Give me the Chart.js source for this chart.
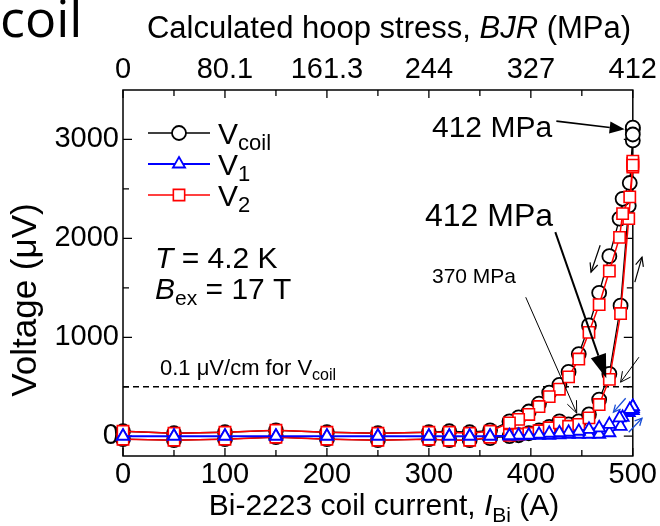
<!DOCTYPE html>
<html><head><meta charset="utf-8">
<script src="https://cdn.jsdelivr.net/npm/chart.js@4.4.0/dist/chart.umd.min.js"></script>
<style>html,body{margin:0;padding:0;background:#fff;overflow:hidden}</style>
</head><body>
<canvas id="c" width="660" height="526"></canvas>
<script>
// ---- data ----
const currentUp = [0, 50, 100, 150, 200, 250, 300, 320, 340, 360, 379, 388, 398, 408, 418, 428, 437, 447, 457, 467, 477, 488, 496, 500];
const vcoilUp   = [-30, -40, -30, -10, -30, -40, -30, -40, -40, -20, 0, 10, 30, 60, 95, 150, 120, 150, 220, 370, 630, 1320, 2330, 2990];
const v1Up      = [0, 0, 0, 0, 0, 0, 0, 0, 0, 0, 0, 0, 5, 10, 10, 15, 20, 20, 20, 20, 35, 100, 240, 260];
const v2Up      = [-30, -40, -30, -10, -30, -40, -30, -40, -40, -10, 10, 20, 30, 55, 85, 135, 100, 120, 185, 320, 575, 1240, 2200, 2720];

const currentHold = [500, 500];
const vcoilHold   = [3100, 3120];
const v1Hold      = [280, 300];
const v2Hold      = [2760, 2780];

const currentDown = [500, 497, 490, 487, 477, 467, 457, 447, 437, 428, 418, 408, 398, 388, 379, 360, 340, 320, 300, 250, 200, 150, 100, 50, 0];
const vcoilDown   = [3050, 2560, 2400, 2200, 1820, 1450, 1120, 830, 650, 520, 440, 330, 250, 190, 150, 60, 40, 50, 40, 30, 40, 60, 40, 30, 50];
const v1Down      = [300, 270, 190, 185, 120, 85, 70, 50, 40, 35, 30, 20, 10, 10, 5, 0, 0, 0, 0, 0, 0, 0, 0, 0, 0];
const v2Down      = [2740, 2420, 2250, 2010, 1670, 1330, 1050, 780, 600, 475, 400, 300, 220, 170, 135, 50, 30, 40, 40, 30, 40, 60, 40, 30, 50];

const criterionCurrent = [0, 500];
const criterionVoltage = [500, 500];

const xTickValues = [0, 100, 200, 300, 400, 500];
const xMinorValues = [50, 150, 250, 350, 450];
const stressTickLabels = ['0', '80.1', '161.3', '244', '327', '412'];
const yTickValues = [0, 1000, 2000, 3000];
const yMinorValues = [500, 1500, 2500];

function pts(xs, ys){ return xs.map((x,i)=>({x:x, y:ys[i]})); }
function series(u, h, d, cu, ch, cd){ return pts(cu,u).concat(pts(ch,h), pts(cd,d)); }

const FONT = '"Liberation Sans", Arial, sans-serif';

function drawRich(ctx, x, y, segs, align, base){
  let total = 0;
  const items = segs.map(s=>{
    const size = s.size || base;
    const font = (s.italic ? 'italic ' : '') + size + 'px ' + FONT;
    ctx.font = font;
    const w = ctx.measureText(s.t).width + (s.gap||0);
    total += w;
    return {s, font, w};
  });
  let cx = align === 'center' ? x - total/2 : (align === 'right' ? x - total : x);
  ctx.textAlign = 'left'; ctx.textBaseline = 'alphabetic';
  items.forEach(it=>{ ctx.font = it.font; ctx.fillText(it.s.t, cx, y + (it.s.dy||0)); cx += it.w; });
}

function arrow(ctx, x1, y1, x2, y2, o){
  o = o || {};
  const col = o.color || '#000', lw = o.width || 1.2, hl = o.head || 10, hw = o.headW || 5;
  const ang = Math.atan2(y2-y1, x2-x1);
  ctx.save();
  ctx.strokeStyle = col; ctx.fillStyle = col; ctx.lineWidth = lw;
  const bx = x2 - hl*Math.cos(ang), by = y2 - hl*Math.sin(ang);
  const px = -Math.sin(ang)*hw, py = Math.cos(ang)*hw;
  ctx.beginPath(); ctx.moveTo(x1,y1);
  ctx.lineTo(o.filled ? bx : x2, o.filled ? by : y2); ctx.stroke();
  ctx.beginPath();
  if (o.filled){
    ctx.moveTo(x2,y2); ctx.lineTo(bx+px,by+py); ctx.lineTo(bx-px,by-py); ctx.closePath(); ctx.fill();
  } else {
    ctx.moveTo(bx+px,by+py); ctx.lineTo(x2,y2); ctx.lineTo(bx-px,by-py); ctx.stroke();
  }
  ctx.restore();
}

const frame = {
  id: 'frame',
  beforeDatasetsDraw(chart){
    const ctx = chart.ctx, a = chart.chartArea, xs = chart.scales.x, ys = chart.scales.y;
    ctx.save();
    ctx.strokeStyle = '#000'; ctx.lineWidth = 1.5;
    ctx.strokeRect(a.left, a.top, a.right - a.left, a.bottom - a.top);
    ctx.lineWidth = 1.3;
    ctx.beginPath();
    const tx = (v, len)=>{ const p = xs.getPixelForValue(v);
      ctx.moveTo(p, a.bottom); ctx.lineTo(p, a.bottom - len);
      ctx.moveTo(p, a.top); ctx.lineTo(p, a.top + len); };
    const ty = (v, len)=>{ const p = ys.getPixelForValue(v);
      ctx.moveTo(a.left, p); ctx.lineTo(a.left + len, p);
      ctx.moveTo(a.right, p); ctx.lineTo(a.right - len, p); };
    xTickValues.forEach(v=>tx(v, 8)); xMinorValues.forEach(v=>tx(v, 6));
    yTickValues.forEach(v=>ty(v, 9)); yMinorValues.forEach(v=>ty(v, 6));
    ctx.stroke();
    ctx.restore();
  },
  afterDraw(chart){
    const ctx = chart.ctx, xs = chart.scales.x, ys = chart.scales.y;
    const X = v=>xs.getPixelForValue(v), Y = v=>ys.getPixelForValue(v);
    ctx.save();
    ctx.fillStyle = '#000';
    // cropped title fragment
    ctx.font = '52px "Open Sans", "Noto Sans", sans-serif';
    ctx.textAlign = 'left'; ctx.textBaseline = 'alphabetic';
    ctx.fillText('coil', 0, 37);
    // axis titles
    drawRich(ctx, 389, 38, [{t:'Calculated hoop stress, '}, {t:'BJR', italic:true}, {t:' (MPa)'}], 'center', 31);
    drawRich(ctx, 384, 515, [{t:'Bi-2223 coil current, '}, {t:'I', italic:true}, {t:'Bi', size:21, dy:7}, {t:' (A)'}], 'center', 30);
    ctx.save(); ctx.translate(36, 300); ctx.rotate(-Math.PI/2);
    drawRich(ctx, 0, 0, [{t:'Voltage ('}, {t:'\u03bc'}, {t:'V)'}], 'center', 35);
    ctx.restore();
    // legend
    const ds = chart.data.datasets;
    const legend = [[1, 133, 'coil'], [3, 164, '1'], [2, 195, '2']];
    legend.forEach(([i, y, sub])=>{
      const d = ds[i];
      ctx.save();
      ctx.strokeStyle = d.borderColor; ctx.lineWidth = d.borderWidth;
      ctx.beginPath(); ctx.moveTo(148, y); ctx.lineTo(210, y); ctx.stroke();
      ctx.fillStyle = '#fff'; ctx.strokeStyle = d.borderColor; ctx.lineWidth = d.pointBorderWidth;
      Chart.helpers.drawPoint(ctx, {pointStyle: d.pointStyle, rotation: 0, radius: d.pointRadius, borderWidth: d.pointBorderWidth}, 179, y);
      ctx.restore();
      ctx.fillStyle = '#000';
      drawRich(ctx, 218, y + 11, [{t:'V'}, {t:sub, size:22, dy:6}], 'left', 30);
    });
    // conditions
    drawRich(ctx, 155, 268, [{t:'T', italic:true}, {t:' = 4.2 K'}], 'left', 30);
    drawRich(ctx, 155, 299, [{t:'B', italic:true}, {t:'ex', size:21, dy:6}, {t:' = 17 T'}], 'left', 30);
    drawRich(ctx, 160, 375, [{t:'0.1 '}, {t:'\u03bc'}, {t:'V/cm for V'}, {t:'coil', size:16, dy:5}], 'left', 22);
    // annotations
    drawRich(ctx, 432, 137, [{t:'412 MPa'}], 'left', 30);
    drawRich(ctx, 425, 226, [{t:'412 MPa'}], 'left', 32);
    drawRich(ctx, 432, 283, [{t:'370 MPa'}], 'left', 21);
    arrow(ctx, X(425), Y(3185), X(492), Y(3104), {filled:true, head:15, headW:6, width:1.6});
    arrow(ctx, X(424), Y(2063), X(474), Y(586), {filled:true, head:24, headW:8, width:2});
    arrow(ctx, X(395), Y(1405), X(445), Y(233), {head:12, headW:5, width:1});
    arrow(ctx, X(468), Y(1931), X(459), Y(1658), {head:9, headW:4, width:1.2});
    arrow(ctx, X(502), Y(1557), X(509), Y(1810), {head:9, headW:4, width:1.2});
    arrow(ctx, X(506), Y(799), X(488), Y(546), {head:10, headW:5, width:1});
    arrow(ctx, X(493), Y(384), X(481), Y(243), {head:7, headW:3.5, width:1.3, color:'#1a4fd6'});
    arrow(ctx, X(496), Y(40), X(509), Y(182), {head:7, headW:3.5, width:1.3, color:'#1a4fd6'});
    ctx.restore();
  }
};

const tickFont = {family: FONT, size: 29};
new Chart(document.getElementById('c'), {
  type: 'scatter',
  data: {
    datasets: [
      {label:'criterion', data: pts(criterionCurrent, criterionVoltage), showLine:true, borderColor:'#000', borderWidth:1.3, borderDash:[6,4], pointRadius:0, order:3, clip:false},
      {label:'Vcoil', data: series(vcoilUp, vcoilHold, vcoilDown, currentUp, currentHold, currentDown), showLine:true,
       borderColor:'#000', borderWidth:1.3, pointStyle:'circle', pointRadius:7, pointBorderWidth:1.8, pointBorderColor:'#000', pointBackgroundColor:'#fff', order:2, clip:false},
      {label:'V2', data: series(v2Up, v2Hold, v2Down, currentUp, currentHold, currentDown), showLine:true,
       borderColor:'#ff0000', borderWidth:1.5, pointStyle:'rect', pointRadius:8, pointBorderWidth:1.6, pointBorderColor:'#ff0000', pointBackgroundColor:'#fff', order:1, clip:false},
      {label:'V1', data: series(v1Up, v1Hold, v1Down, currentUp, currentHold, currentDown), showLine:true,
       borderColor:'#0000ff', borderWidth:2, pointStyle:'triangle', pointRadius:7, pointBorderWidth:1.8, pointBorderColor:'#0000ff', pointBackgroundColor:'#fff', order:0, clip:false}
    ]
  },
  options: {
    responsive:false, animation:false, devicePixelRatio:1,
    layout:{padding:0},
    plugins:{legend:{display:false}, tooltip:{enabled:false}},
    scales:{
      x:{type:'linear', position:'bottom', min:0, max:500,
         afterBuildTicks:s=>{ s.ticks = xTickValues.map(v=>({value:v})); },
         afterFit:s=>{ s.height = 70; },
         ticks:{font:tickFont, color:'#000', padding:2, maxRotation:0, autoSkip:false, callback:v=>String(v)},
         grid:{display:false, drawTicks:false}, border:{display:false}},
      x2:{type:'linear', position:'top', min:0, max:500,
         afterBuildTicks:s=>{ s.ticks = xTickValues.map(v=>({value:v})); },
         afterFit:s=>{ s.height = 90; },
         ticks:{font:tickFont, color:'#000', padding:3, maxRotation:0, autoSkip:false,
                callback:v=>stressTickLabels[xTickValues.indexOf(v)]},
         grid:{display:false, drawTicks:false}, border:{display:false}},
      y:{type:'linear', position:'left', min:-200, max:3500,
         afterBuildTicks:s=>{ s.ticks = yTickValues.map(v=>({value:v})); },
         afterFit:s=>{ s.width = 123; },
         ticks:{font:tickFont, color:'#000', padding:4, callback:v=>String(v)},
         grid:{display:false, drawTicks:false}, border:{display:false}},
      y2:{type:'linear', position:'right', min:-200, max:3500,
         afterFit:s=>{ s.width = 26; },
         ticks:{display:false},
         grid:{display:false, drawTicks:false}, border:{display:false}}
    }
  },
  plugins:[frame]
});
</script>
</body></html>
